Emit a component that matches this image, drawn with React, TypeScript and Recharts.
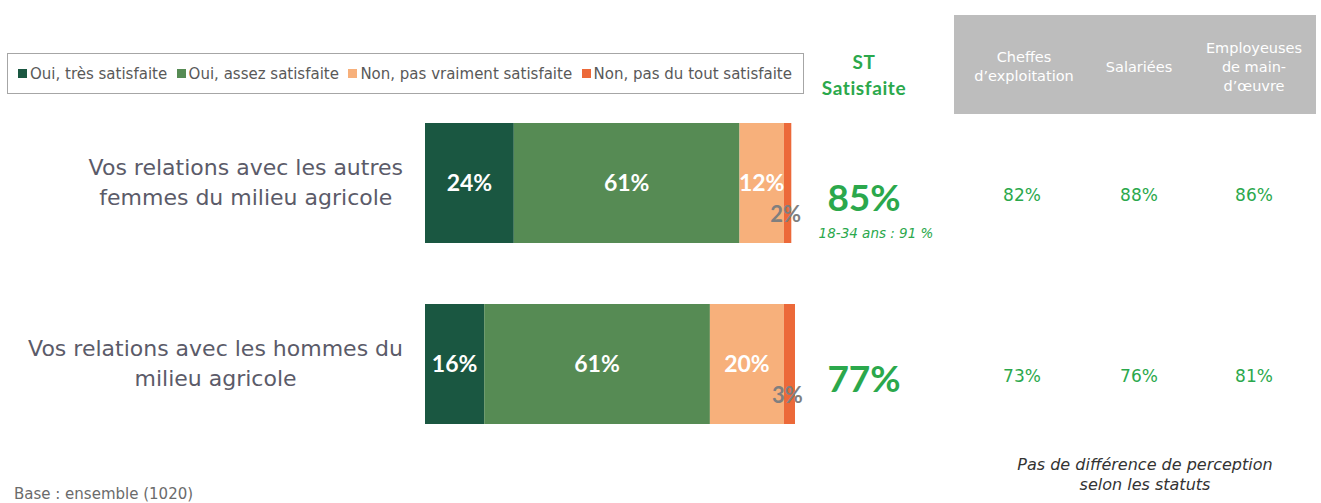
import { BarChart, Bar, XAxis, YAxis, LabelList } from 'recharts'

const categories = [
  'Vos relations avec les autres\nfemmes du milieu agricole',
  'Vos relations avec les hommes du\nmilieu agricole',
]
const tresSatisfaite = [24, 16]
const assezSatisfaite = [61, 61]
const pasVraiment = [12, 20]
const pasDuTout = [2, 3]
const stSatisfaite = [85, 77]
const stNotes = ['18-34 ans : 91 %', '']
const cheffes = [82, 73]
const salariees = [88, 76]
const employeuses = [86, 81]

const seriesNames = [
  'Oui, très satisfaite',
  'Oui, assez satisfaite',
  'Non, pas vraiment satisfaite',
  'Non, pas du tout satisfaite',
]
const statusHeaders = [['Cheffes', 'd’exploitation'], ['Salariées'], ['Employeuses', 'de main-', 'd’œuvre']]

const COLORS = ['#1a5741', '#568b54', '#f7b07b', '#ec6939']
const GREEN = '#2ba84c'
const FONT = '"DejaVu Sans", sans-serif'
const BOLD_FONT = 'Lato, "DejaVu Sans", sans-serif'

const data = categories.map((c, i) => ({
  name: c,
  tres: tresSatisfaite[i],
  assez: assezSatisfaite[i],
  vraiment: pasVraiment[i],
  tout: pasDuTout[i],
  st: stSatisfaite[i],
}))

let ctx: CanvasRenderingContext2D | null = null
function measure(s: string, font: string) {
  if (!ctx) ctx = document.createElement('canvas').getContext('2d')
  if (!ctx) return s.length * 10
  ctx.font = font
  return ctx.measureText(s).width
}

// two-line category label, block right-aligned, lines centred on each other
const CategoryTick = ({ x, y, payload }: any) => {
  const lines: string[] = String(payload.value).split('\n')
  const w = Math.max(...lines.map(l => measure(l, `22px ${FONT}`)))
  const cx = x - 14 - w / 2
  return (
    <g>
      {lines.map((l, i) => (
        <text
          key={i}
          x={cx}
          y={y + (i - (lines.length - 1) / 2) * 30}
          textAnchor="middle"
          dominantBaseline="central"
          fontSize={22}
          fill="#5b5b69"
          fontFamily={FONT}
        >
          {l}
        </text>
      ))}
    </g>
  )
}

const SmallLabel = ({ x, y, width, height, value }: any) => (
  <text
    x={x + width / 2 - 2}
    y={y + height / 2 + 30}
    textAnchor="middle"
    dominantBaseline="central"
    fontSize={22}
    fontWeight={700}
    fill="#7f7f7f"
    fontFamily={BOLD_FONT}
  >
    {value}%
  </text>
)

const RightColumns = ({ y, height, index }: any) => {
  const cy = y + height / 2
  const cols = [cheffes, salariees, employeuses]
  const colX = [1022, 1139, 1254]
  return (
    <g>
      <text x={864} y={cy + 13} textAnchor="middle" dominantBaseline="central" fontSize={37} fontWeight={700} fill={GREEN} fontFamily={BOLD_FONT}>
        {stSatisfaite[index]}%
      </text>
      {stNotes[index] && (
        <text x={876} y={cy + 50} textAnchor="middle" dominantBaseline="central" fontSize={13.5} fontStyle="italic" fill={GREEN} fontFamily={FONT}>
          {stNotes[index]}
        </text>
      )}
      {cols.map((c, k) => (
        <text key={k} x={colX[k]} y={cy + 12} textAnchor="middle" dominantBaseline="central" fontSize={17} fill={GREEN} fontFamily={FONT}>
          {c[index]}%
        </text>
      ))}
    </g>
  )
}

const barLabel = { fill: '#fff', fontSize: 23, fontWeight: 700, fontFamily: BOLD_FONT }

export default function App() {
  return (
    <div style={{ position: 'absolute', left: 0, top: 0, width: 1321, height: 503, background: '#fff', fontFamily: FONT }}>
      <BarChart
        width={1321}
        height={503}
        data={data}
        layout="vertical"
        margin={{ top: 92, right: 526, bottom: 49, left: 0 }}
        barSize={120}
      >
        <XAxis type="number" domain={[0, 100]} hide />
        <YAxis type="category" dataKey="name" width={425} axisLine={false} tickLine={false} tick={<CategoryTick />} interval={0} />
        <Bar dataKey="tres" stackId="a" fill={COLORS[0]} isAnimationActive={false}>
          <LabelList dataKey="tres" position="center" {...barLabel} formatter={(v: any) => `${v}%`} />
        </Bar>
        <Bar dataKey="assez" stackId="a" fill={COLORS[1]} isAnimationActive={false}>
          <LabelList dataKey="assez" position="center" {...barLabel} formatter={(v: any) => `${v}%`} />
        </Bar>
        <Bar dataKey="vraiment" stackId="a" fill={COLORS[2]} isAnimationActive={false}>
          <LabelList dataKey="vraiment" position="center" {...barLabel} formatter={(v: any) => `${v}%`} />
        </Bar>
        <Bar dataKey="tout" stackId="a" fill={COLORS[3]} isAnimationActive={false}>
          <LabelList dataKey="tout" content={<SmallLabel />} />
          <LabelList dataKey="st" content={<RightColumns />} />
        </Bar>
      </BarChart>

      {/* legend box */}
      <div
        style={{
          position: 'absolute',
          left: 7,
          top: 53,
          width: 797,
          height: 41,
          border: '1px solid #a6a6a6',
          boxSizing: 'border-box',
          display: 'flex',
          alignItems: 'center',
          justifyContent: 'space-between',
          padding: '0 11px 0 10px',
          fontSize: 15,
          color: '#595959',
        }}
      >
        {seriesNames.map((n, i) => (
          <span key={n} style={{ display: 'inline-flex', alignItems: 'center' }}>
            <span style={{ width: 9, height: 9, background: COLORS[i], marginRight: 3 }} />
            {n}
          </span>
        ))}
      </div>

      <div style={{ position: 'absolute', left: 804, top: 49, width: 120, textAlign: 'center', color: GREEN, fontWeight: 700, fontSize: 19, lineHeight: '26px', fontFamily: BOLD_FONT, letterSpacing: 0.6 }}>
        ST<br />Satisfaite
      </div>

      <div style={{ position: 'absolute', left: 954, top: 15, width: 362, height: 99, background: '#bdbdbd', color: '#fff', fontSize: 14.5, lineHeight: '19px' }}>
        {statusHeaders.map((h, i) => (
          <div
            key={i}
            style={{
              position: 'absolute',
              left: [6, 130, 238][i],
              width: [128, 110, 124][i],
              top: 52 - (h.length * 19) / 2,
              textAlign: 'center',
            }}
          >
            {h.map((l, k) => (
              <div key={k}>{l}</div>
            ))}
          </div>
        ))}
      </div>

      <div style={{ position: 'absolute', left: 995, top: 455, width: 300, textAlign: 'center', fontStyle: 'italic', fontSize: 16, lineHeight: '20px', color: '#333' }}>
        Pas de différence de perception<br />selon les statuts
      </div>
      <div style={{ position: 'absolute', left: 14, top: 485, fontSize: 15, color: '#6b6b6b' }}>Base : ensemble (1020)</div>
    </div>
  )
}
